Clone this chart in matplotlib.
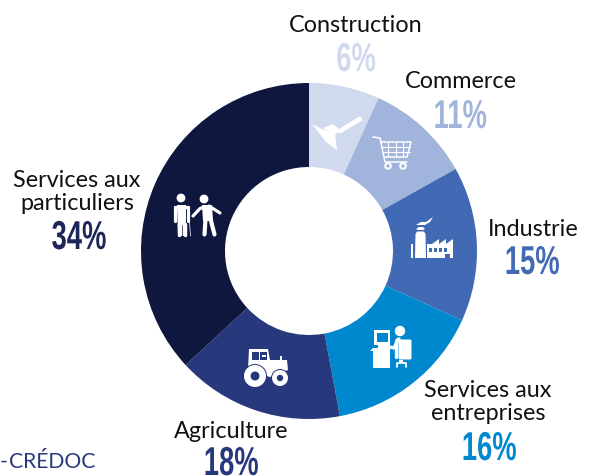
import matplotlib
matplotlib.use('Agg')
import matplotlib.pyplot as plt
from matplotlib.patches import Circle, Polygon, Rectangle, FancyBboxPatch
from matplotlib.patheffects import AbstractPathEffect
from matplotlib.transforms import Affine2D

sectors = ['Construction', 'Commerce', 'Industrie', 'Services aux\nentreprises', 'Agriculture', 'Services aux\nparticuliers']
percent_labels = ['6%', '11%', '15%', '16%', '18%', '34%']
# arc sizes as drawn in the picture (they differ a bit from the printed numbers)
arc_shares = [6.8, 10.1, 14.9, 15.3, 16.1, 36.9]
colors = ['#D0D9EE', '#A1B4DC', '#4169B4', '#0088CF', '#27387C', '#10173F']

name_pos = [(356, 25), (461, 82), (533, 230), (488, 402), (231, 432), (77, 192)]
pct_pos = [(356, 61), (460, 118), (532, 264), (489, 450), (231, 465), (79, 239)]

WHITE = 'white'


class Squeeze(AbstractPathEffect):
    # no condensed bold font installed, so narrow the glyphs around their centre
    def __init__(self, sx):
        super().__init__()
        self.sx = sx

    def draw_path(self, renderer, gc, tpath, affine, rgbFace=None):
        ext = tpath.get_extents()
        mid = (ext.x0 + ext.x1) / 2
        squeeze = Affine2D().translate(-mid, 0).scale(self.sx, 1).translate(mid, 0)
        renderer.draw_path(gc, tpath, squeeze + affine, rgbFace)


fig = plt.figure(figsize=(5.95, 4.77), dpi=100)
ax = fig.add_axes([0, 0, 1, 1])

# y axis is flipped so everything is in picture pixels, hence startangle -90
ax.pie(arc_shares, colors=colors, center=(309, 252), radius=168, startangle=-90,
       counterclock=True, wedgeprops=dict(width=84, linewidth=0))
ax.set_xlim(0, 595)
ax.set_ylim(477, 0)
ax.set_aspect('equal')
ax.axis('off')

def poly(pts, color=WHITE, z=5):
    ax.add_patch(Polygon(pts, closed=True, fc=color, ec='none', zorder=z))

def rect(x, y, w, h, color=WHITE, z=5):
    ax.add_patch(Rectangle((x, y), w, h, fc=color, ec='none', zorder=z))

def circ(x, y, r, color=WHITE, z=5):
    ax.add_patch(Circle((x, y), r, fc=color, ec='none', zorder=z))

def seg(xs, ys, lw, color=WHITE, z=5):
    ax.plot(xs, ys, color=color, lw=lw, solid_capstyle='round', solid_joinstyle='round', zorder=z)

# trowel
seg([340, 360], [132, 120], 3.4)
poly([(323, 129), (333, 125), (340, 131), (335, 136)])
poly([(312, 125), (322, 130), (335, 134), (337, 151), (326, 143)])

# cart
seg([373, 380, 385, 407], [138, 139, 163, 163], 1.1)
seg([381, 411, 407, 385], [143, 143, 158, 158], 1.1)
for x in [388, 396, 403]:
    seg([x, x], [143, 158], 0.8)
for y in [148, 153]:
    seg([382, 410], [y, y], 0.8)
for x in [388, 403]:
    circ(x, 167, 3.8)
    circ(x, 167, 1.7, colors[1], 6)

# factory
poly([(416, 226), (421, 223), (426, 223), (433, 218), (430, 223), (425, 226), (419, 226)])
poly([(416, 230), (419, 228), (423, 228), (425, 230), (423, 231), (418, 231)])
poly([(415, 259), (415.5, 235), (417, 232.5), (424, 232.5), (425.5, 235), (426, 259)])
rect(411, 245, 2.2, 14)
poly([(427, 259), (427, 245), (432, 245), (439, 240), (439, 245), (446, 240), (446, 245), (453, 240), (453, 259)])
for x in [429, 434, 439, 444]:
    rect(x, 249, 3, 3.5, colors[2], 6)
rect(444.5, 255, 5, 4, colors[2], 6)

# person at computer
rect(374, 331, 16, 15)
rect(376.5, 333.5, 11, 9.5, colors[3], 6)
rect(378, 346, 8, 3)
poly([(370, 352), (373, 349), (390, 349), (390, 369), (373, 369), (373, 352)])
circ(400, 332, 5.2)
ax.add_patch(FancyBboxPatch((400, 342), 10, 17, boxstyle='round,pad=1.5', fc=WHITE, ec='none', zorder=5))
seg([386, 394, 398], [347, 349, 341], 2.4)
seg([396, 396], [342, 358], 2.4)
seg([397, 399], [341, 340], 2.4)
rect(399, 361, 4, 3)
seg([397, 397, 406, 406], [368, 364, 364, 368], 1.3)

# tractor
poly([(248, 370), (249, 350), (268, 350), (270, 361), (287, 361), (288, 371), (270, 378), (250, 372)])
rect(280.3, 357, 1.5, 6)
rect(252, 352.5, 6.5, 8, colors[4], 6)
rect(260, 352.5, 7, 8, colors[4], 6)
rect(262, 355.5, 4, 2, WHITE, 7)
circ(255, 377, 12, colors[4], 6)
circ(255, 377, 11, WHITE, 7)
circ(255, 377, 4.5, colors[4], 8)
circ(280, 379, 9, colors[4], 6)
circ(280, 379, 8, WHITE, 7)
circ(280, 379, 3.2, colors[4], 8)

# two people
circ(181, 199, 4.4)
poly([(177, 206), (186, 206), (186, 237), (178, 237)])
seg([175, 175], [208, 222], 2.3)
seg([188, 188], [208, 222], 2.3)
seg([175, 188], [207.5, 207.5], 2.3)
seg([178.5, 178.5, 185, 185], [236, 225, 225, 236], 2.5)
seg([182, 182], [226, 238], 0.5, colors[5], 6)
seg([189.5, 190.5], [223, 237], 0.5)
circ(204, 200, 4.4)
seg([193, 200, 206], [217, 209.5, 207.5], 2.3)
seg([209, 220], [207, 214], 2.3)
poly([(202, 206), (212, 206), (213, 222), (203, 222)])
seg([205.5, 204.5], [220, 235.5], 3.0)
seg([210.5, 214.5], [220, 235.5], 3.0)

for name, xy in zip(sectors, name_pos):
    ax.text(xy[0], xy[1], name, ha='center', va='center', fontsize=16.8, family='Lato',
            color='#111111', linespacing=1.12)
for pct, xy, c in zip(percent_labels, pct_pos, colors):
    c = '#1D2657' if pct == '34%' else c
    ax.text(xy[0], xy[1], pct, ha='center', va='center', fontsize=29, color=c,
            family='Liberation Sans', fontweight='bold', path_effects=[Squeeze(0.68)])

ax.text(0, 462, '-', ha='left', va='center', fontsize=15.2, family='Lato', color='#27387C')
ax.text(9, 462, 'CRÉDOC', ha='left', va='center', fontsize=15.2, family='Lato', color='#27387C')

fig.savefig('out.png', dpi=100)
